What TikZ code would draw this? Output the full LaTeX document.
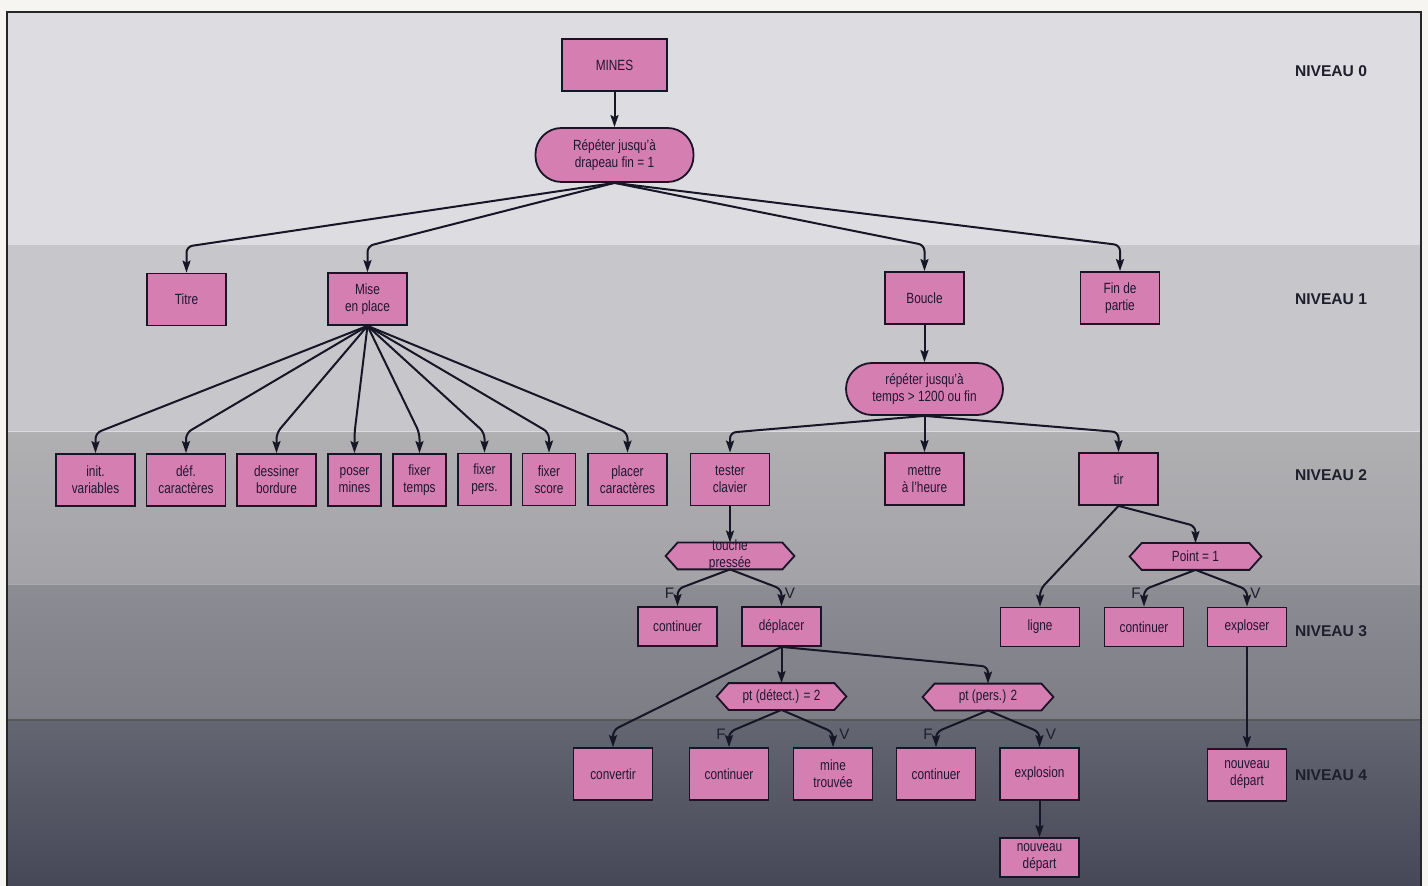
\documentclass[tikz,border=0pt]{standalone}
\usepackage{fontspec}
\setmainfont{Liberation Sans}
\newfontfamily\condfont{Liberation Sans}[FakeStretch=0.8]
\newfontfamily\labfont{Liberation Sans}
\usetikzlibrary{arrows.meta}
\pgfdeclarelayer{bands}
\pgfdeclarelayer{hexes}
\pgfsetlayers{bands,hexes,main}
\definecolor{boxpink}{RGB}{213,126,178}
\definecolor{boxline}{RGB}{26,20,38}
\definecolor{txt}{RGB}{32,22,52}
\definecolor{lin}{RGB}{22,22,38}
\definecolor{paper}{RGB}{247,245,241}
\definecolor{bandA}{RGB}{221,220,224}
\definecolor{bandB}{RGB}{199,198,202}
\definecolor{bandCt}{RGB}{176,176,179}
\definecolor{bandCb}{RGB}{163,163,167}
\definecolor{bandDt}{RGB}{140,141,147}
\definecolor{bandDb}{RGB}{124,125,133}
\definecolor{bandEt}{RGB}{100,102,114}
\definecolor{bandEb}{RGB}{70,72,88}
\definecolor{lvltxt}{RGB}{30,30,45}
\begin{document}
\begin{tikzpicture}[x=0.5pt,y=-0.5pt,
  base/.style={inner sep=1pt, align=center, text=txt,
    font=\condfont\fontsize{7.4}{8.5}\selectfont},
  box/.style={base, draw=boxline, fill=boxpink, line width=0.9pt,
    minimum width=39.5pt, minimum height=26pt},
  nbox/.style={box, minimum width=26.5pt},
  sbox/.style={box, minimum height=19.5pt},
  oval/.style={box, rounded corners=13pt},
  hexnode/.style={base, inner sep=0pt, minimum height=13pt},
  hexpath/.style={fill=boxpink, draw=boxline, line width=0.9pt, line join=miter},
  arr/.style={draw=lin, line width=1pt, rounded corners=3pt,
    -{Stealth[length=6pt,width=4pt,inset=1pt]}},
  lvl/.style={font=\labfont\bfseries\fontsize{7.8}{9}\selectfont, text=lvltxt},
  flab/.style={font=\labfont\fontsize{7.6}{9}\selectfont, text=lvltxt, inner sep=0pt},
  frame/.style={draw=black!85, line width=0.8pt}
]
\useasboundingbox (0,0) rectangle (1428,886);

% ---------- background bands ----------
\begin{pgfonlayer}{bands}
\fill[paper] (0,0) rectangle (1428,886);
\fill[bandA] (7,12) rectangle (1421,245);
\fill[bandB] (7,245) rectangle (1421,432);
\shade[top color=bandCt, bottom color=bandCb] (7,432) rectangle (1421,585);
\shade[top color=bandDt, bottom color=bandDb] (7,585) rectangle (1421,720);
\shade[top color=bandEt, bottom color=bandEb] (7,720) rectangle (1421,886);
\draw[white!35!bandB, line width=0.5pt] (7,432) -- (1421,432);
\draw[white!25!bandDt, line width=0.5pt] (7,585) -- (1421,585);
\draw[black!65, line width=0.6pt] (7,720) -- (1421,720);
\draw[frame] (7,886) -- (7,12) -- (1421,12) -- (1421,886);
\end{pgfonlayer}

% ---------- level labels ----------
\node[lvl] (n0) at (1331,71) {NIVEAU 0};
\node[lvl] (n1) at (1331,299) {NIVEAU 1};
\node[lvl] (n2) at (1331,475) {NIVEAU 2};
\node[lvl] (n3) at (1331,631) {NIVEAU 3};
\node[lvl] (n4) at (1331,775) {NIVEAU 4};

% ---------- level 0 ----------
\node[box, minimum width=52.5pt] (mines) at (614.5,65) {MINES};
\node[oval, minimum width=79pt, minimum height=27pt] (rep) at (614.5,155) {Répéter jusqu’à\\drapeau fin = 1};

% ---------- level 1 ----------
\node[box] (titre) at (186.5,299.5) {Titre};
\node[box] (mise) at (367.5,299) {Mise\\en place};
\node[box] (boucle) at (924.5,298) {Boucle};
\node[box] (fin) at (1120,298) {Fin de\\partie};
\node[oval, minimum width=78.5pt, minimum height=26pt] (rep2) at (924.5,389) {répéter jusqu’à\\temps > 1200 ou fin};

% ---------- level 2 ----------
\node[box] (init) at (95.5,480) {init.\\variables};
\node[box] (def) at (186,480) {déf.\\caractères};
\node[box] (dess) at (276.5,480) {dessiner\\bordure};
\node[nbox] (poser) at (354.5,480) {poser\\mines};
\node[nbox] (ftemps) at (419.5,480) {fixer\\temps};
\node[nbox] (fpers) at (484.5,479.5) {fixer\\pers.};
\node[nbox] (fscore) at (549,479.5) {fixer\\score};
\node[box] (placer) at (627.5,479.5) {placer\\caractères};
\node[box] (tester) at (730,479.5) {tester\\clavier};
\node[box] (mettre) at (924.5,479) {mettre\\à l’heure};
\node[box] (tir) at (1118.5,479) {tir};

\node[hexnode, minimum width=64pt] (touche) at (730,556)
  {\raisebox{-1.8pt}[0pt][0pt]{\begin{tabular}{@{}c@{}}touche\\pressée\end{tabular}}};
\node[hexnode, minimum width=65.5pt] (point) at (1195.5,556.5) {Point = 1};

% ---------- level 3 ----------
\node[sbox] (cont1) at (677.5,626.5) {continuer};
\node[sbox] (depl) at (781.5,626.5) {déplacer};
\node[sbox] (ligne) at (1040,627) {ligne};
\node[sbox] (cont2) at (1144,627) {continuer};
\node[sbox] (expl) at (1247,627) {exploser};

\node[hexnode, minimum width=64.5pt] (ptd) at (781.5,696.5) {pt (détect.) = 2};
\node[hexnode, minimum width=65pt] (ptp) at (988,697) {pt (pers.) 2};

% ---------- level 4 ----------
\node[box] (conv) at (613,774) {convertir};
\node[box] (cont3) at (729,774) {continuer};
\node[box] (mine) at (833,774) {mine\\trouvée};
\node[box] (cont4) at (936,774) {continuer};
\node[box] (explo) at (1039.5,774) {explosion};
\node[box] (nd1) at (1247,775) {nouveau\\départ};
\node[sbox] (nd2) at (1039.5,857.5) {nouveau\\départ};

% ---------- hexagon outlines ----------
\begin{pgfonlayer}{hexes}
\foreach \h in {touche,point,ptd,ptp}
  \path[hexpath] (\h.west) -- ([xshift=6pt]\h.north west) -- ([xshift=-6pt]\h.north east)
    -- (\h.east) -- ([xshift=-6pt]\h.south east) -- ([xshift=6pt]\h.south west) -- cycle;
\end{pgfonlayer}

% ---------- connectors ----------
\draw[arr] (mines.south) -- (rep.north);
\foreach \n in {titre,mise,boucle,fin}
  \draw[arr] (rep.south) -- ([yshift=13pt]\n.north) -- (\n.north);
\draw[arr] (boucle.south) -- (rep2.north);
\foreach \n in {init,def,dess,poser,ftemps,fpers,fscore,placer}
  \draw[arr] (mise.south) -- ([yshift=10pt]\n.north) -- (\n.north);
\foreach \n in {tester,tir}
  \draw[arr] (rep2.south) -- ([yshift=10pt]\n.north) -- (\n.north);
\draw[arr] (rep2.south) -- (mettre.north);
\draw[arr] (tester.south) -- (touche.north);
\foreach \n in {cont1,depl}
  \draw[arr] (touche.south) -- ([yshift=8.5pt]\n.north) -- (\n.north);
\foreach \n in {ligne,point}
  \draw[arr] (tir.south) -- ([yshift=8.5pt]\n.north) -- (\n.north);
\foreach \n in {cont2,expl}
  \draw[arr] (point.south) -- ([yshift=8.5pt]\n.north) -- (\n.north);
\draw[arr] (depl.south) -- (ptd.north);
\foreach \n in {conv,ptp}
  \draw[arr] (depl.south) -- ([yshift=8.5pt]\n.north) -- (\n.north);
\foreach \n in {cont3,mine}
  \draw[arr] (ptd.south) -- ([yshift=7.5pt]\n.north) -- (\n.north);
\foreach \n in {cont4,explo}
  \draw[arr] (ptp.south) -- ([yshift=7.5pt]\n.north) -- (\n.north);
\draw[arr] (expl.south) -- (nd1.north);
\draw[arr] (explo.south) -- (nd2.north);

% ---------- F / V labels ----------
\node[flab, anchor=east] (f1) at ([xshift=-1.5pt,yshift=6.5pt]cont1.north) {F};
\node[flab, anchor=west] (v1) at ([xshift=1.5pt,yshift=6.5pt]depl.north) {V};
\node[flab, anchor=east] (f2) at ([xshift=-1.5pt,yshift=6.5pt]cont2.north) {F};
\node[flab, anchor=west] (v2) at ([xshift=1.5pt,yshift=6.5pt]expl.north) {V};
\node[flab, anchor=east] (f3) at ([xshift=-1.5pt,yshift=6.5pt]cont3.north) {F};
\node[flab, anchor=west] (v3) at ([xshift=3pt,yshift=6.5pt]mine.north) {V};
\node[flab, anchor=east] (f4) at ([xshift=-1.5pt,yshift=6.5pt]cont4.north) {F};
\node[flab, anchor=west] (v4) at ([xshift=3pt,yshift=6.5pt]explo.north) {V};
\end{tikzpicture}
\end{document}
